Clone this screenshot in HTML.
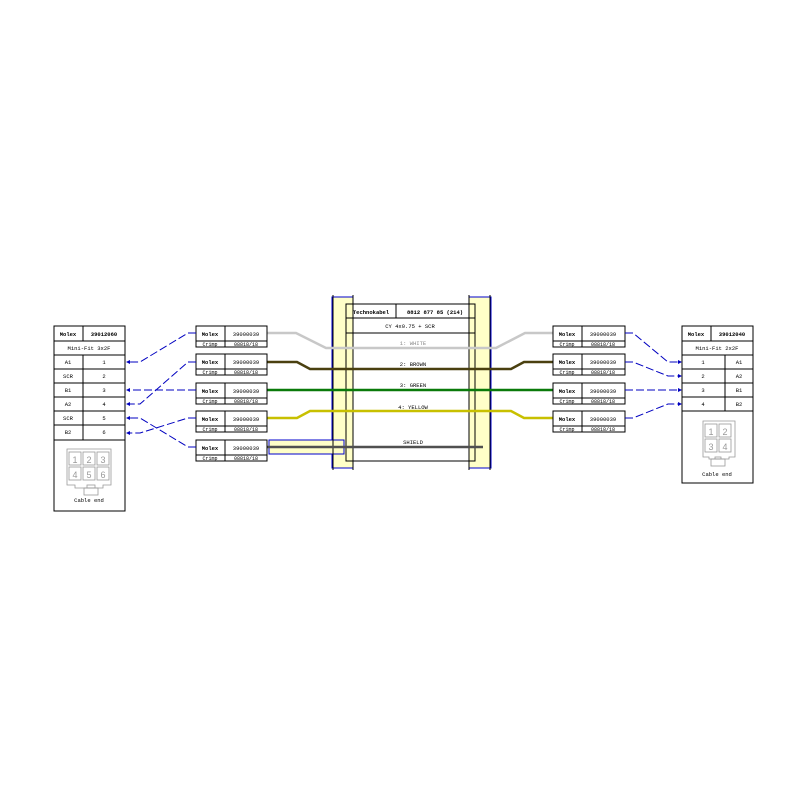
<!DOCTYPE html>
<html><head><style>body{margin:0;background:#fff}svg{display:block}text{font-family:"Liberation Mono",monospace;font-size:5.5px;fill:#000}</style></head><body>
<svg width="801" height="791" viewBox="0 0 801 791" xmlns="http://www.w3.org/2000/svg">
<g fill="none" stroke="#000" stroke-width="1">
<!-- left connector -->
<rect x="54" y="326" width="71" height="185"/>
<line x1="83" y1="326" x2="83" y2="341"/>
<line x1="54" y1="341" x2="125" y2="341"/>
<line x1="54" y1="355" x2="125" y2="355"/>
<line x1="54" y1="369" x2="125" y2="369"/>
<line x1="54" y1="383" x2="125" y2="383"/>
<line x1="54" y1="397" x2="125" y2="397"/>
<line x1="54" y1="411" x2="125" y2="411"/>
<line x1="54" y1="425" x2="125" y2="425"/>
<line x1="54" y1="440" x2="125" y2="440"/>
<line x1="83" y1="355" x2="83" y2="440"/>
<!-- right connector -->
<rect x="682" y="326" width="71" height="157"/>
<line x1="711" y1="326" x2="711" y2="341"/>
<line x1="682" y1="341" x2="753" y2="341"/>
<line x1="682" y1="355" x2="753" y2="355"/>
<line x1="682" y1="369" x2="753" y2="369"/>
<line x1="682" y1="383" x2="753" y2="383"/>
<line x1="682" y1="397" x2="753" y2="397"/>
<line x1="682" y1="411" x2="753" y2="411"/>
<line x1="725" y1="355" x2="725" y2="411"/>
</g>
<g fill="none" stroke="#999" stroke-width="0.8">
<path d="M67 449 H111 V485 H103 V488 H75 V485 H67 Z"/>
<rect x="69" y="452" width="12" height="13"/><rect x="83" y="452" width="12" height="13"/><rect x="97" y="452" width="12" height="13"/>
<rect x="69" y="467" width="12" height="13"/><rect x="83" y="467" width="12" height="13"/><rect x="97" y="467" width="12" height="13"/>
<rect x="84" y="488" width="14" height="7"/><rect x="87" y="485" width="8" height="3"/>
<path d="M703 421 H735 V457 H729 V459 H709 V457 H703 Z"/>
<rect x="705" y="424" width="12" height="13"/><rect x="719" y="424" width="12" height="13"/>
<rect x="705" y="439" width="12" height="13"/><rect x="719" y="439" width="12" height="13"/>
<rect x="711" y="459" width="14" height="7"/><rect x="715" y="457" width="6" height="2"/>
</g>
<g style="font-family:'Liberation Sans',sans-serif;font-size:9px" fill="#999">
<text x="75" y="463" style="fill:#999;font-size:9px;font-family:'Liberation Sans',sans-serif" text-anchor="middle">1</text>
<text x="89" y="463" style="fill:#999;font-size:9px;font-family:'Liberation Sans',sans-serif" text-anchor="middle">2</text>
<text x="103" y="463" style="fill:#999;font-size:9px;font-family:'Liberation Sans',sans-serif" text-anchor="middle">3</text>
<text x="75" y="478" style="fill:#999;font-size:9px;font-family:'Liberation Sans',sans-serif" text-anchor="middle">4</text>
<text x="89" y="478" style="fill:#999;font-size:9px;font-family:'Liberation Sans',sans-serif" text-anchor="middle">5</text>
<text x="103" y="478" style="fill:#999;font-size:9px;font-family:'Liberation Sans',sans-serif" text-anchor="middle">6</text>
<text x="711" y="435" style="fill:#999;font-size:9px;font-family:'Liberation Sans',sans-serif" text-anchor="middle">1</text>
<text x="725" y="435" style="fill:#999;font-size:9px;font-family:'Liberation Sans',sans-serif" text-anchor="middle">2</text>
<text x="711" y="450" style="fill:#999;font-size:9px;font-family:'Liberation Sans',sans-serif" text-anchor="middle">3</text>
<text x="725" y="450" style="fill:#999;font-size:9px;font-family:'Liberation Sans',sans-serif" text-anchor="middle">4</text>
</g>
<g text-anchor="middle">
<text x="68" y="336" font-weight="bold">Molex</text><text x="104" y="336" font-weight="bold">39012060</text>
<text x="89" y="350">Mini-Fit 3x2F</text>
<text x="68" y="364">A1</text><text x="104" y="364">1</text>
<text x="68" y="378">SCR</text><text x="104" y="378">2</text>
<text x="68" y="392">B1</text><text x="104" y="392">3</text>
<text x="68" y="406">A2</text><text x="104" y="406">4</text>
<text x="68" y="420">SCR</text><text x="104" y="420">5</text>
<text x="68" y="434">B2</text><text x="104" y="434">6</text>
<text x="89" y="502">Cable end</text>
<text x="696" y="336" font-weight="bold">Molex</text><text x="732" y="336" font-weight="bold">39012040</text>
<text x="717" y="350">Mini-Fit 2x2F</text>
<text x="703" y="364">1</text><text x="739" y="364">A1</text>
<text x="703" y="378">2</text><text x="739" y="378">A2</text>
<text x="703" y="392">3</text><text x="739" y="392">B1</text>
<text x="703" y="406">4</text><text x="739" y="406">B2</text>
<text x="717" y="476">Cable end</text>
</g>
<!-- cable bands -->
<rect x="332" y="297" width="21" height="171" fill="#ffffc8" stroke="#00c" stroke-width="1"/>
<rect x="469" y="297" width="22" height="171" fill="#ffffc8" stroke="#00c" stroke-width="1"/>
<rect x="269" y="440" width="75" height="14" fill="#ffffc8" stroke="#00c" stroke-width="1"/>
<g stroke="#000" fill="none">
<line x1="333" y1="295" x2="333" y2="470"/><line x1="353" y1="295" x2="353" y2="470"/>
<line x1="490" y1="295" x2="490" y2="470"/><line x1="469" y1="295" x2="469" y2="470"/>
<rect x="346" y="304" width="129" height="157"/>
<line x1="346" y1="318" x2="475" y2="318"/><line x1="346" y1="333" x2="475" y2="333"/>
<line x1="396" y1="304" x2="396" y2="318"/>
</g>
<text x="371" y="314" text-anchor="middle" font-weight="bold">Technokabel</text>
<text x="435" y="314" text-anchor="middle" font-weight="bold">8812 877 85 (214)</text>
<text x="410" y="328" text-anchor="middle">CY 4x0.75 + SCR</text>
<!-- wires -->
<g fill="none" stroke-width="2.5">
<path d="M267 333 H296 L326 348 H496 L525 333 H553" stroke="#c8c8c8"/>
<path d="M267 362 H297 L310 369 H511 L524 362 H553" stroke="#4a4010"/>
<path d="M267 390 H553" stroke="#0a7a0a"/>
<path d="M267 418 H297 L310 411 H511 L524 418 H553" stroke="#c8c000"/>
<path d="M267 447 H483" stroke="#505050"/>
</g>
<g text-anchor="middle">
<text x="413" y="345" style="fill:#888">1: WHITE</text>
<text x="413" y="366">2: BROWN</text>
<text x="413" y="387">3: GREEN</text>
<text x="413" y="409">4: YELLOW</text>
<text x="413" y="444">SHIELD</text>
</g>
<!-- small boxes -->
<g id="b" fill="#fff" stroke="#000">
<rect x="196" y="326" width="71" height="21"/><line x1="196" y1="341" x2="267" y2="341"/><line x1="225" y1="326" x2="225" y2="347"/>
<rect x="196" y="354" width="71" height="21"/><line x1="196" y1="369" x2="267" y2="369"/><line x1="225" y1="354" x2="225" y2="375"/>
<rect x="196" y="383" width="71" height="21"/><line x1="196" y1="398" x2="267" y2="398"/><line x1="225" y1="383" x2="225" y2="404"/>
<rect x="196" y="411" width="71" height="21"/><line x1="196" y1="426" x2="267" y2="426"/><line x1="225" y1="411" x2="225" y2="432"/>
<rect x="196" y="440" width="71" height="21"/><line x1="196" y1="455" x2="267" y2="455"/><line x1="225" y1="440" x2="225" y2="461"/>
<rect x="553" y="326" width="72" height="21"/><line x1="553" y1="341" x2="625" y2="341"/><line x1="582" y1="326" x2="582" y2="347"/>
<rect x="553" y="354" width="72" height="21"/><line x1="553" y1="369" x2="625" y2="369"/><line x1="582" y1="354" x2="582" y2="375"/>
<rect x="553" y="383" width="72" height="21"/><line x1="553" y1="398" x2="625" y2="398"/><line x1="582" y1="383" x2="582" y2="404"/>
<rect x="553" y="411" width="72" height="21"/><line x1="553" y1="426" x2="625" y2="426"/><line x1="582" y1="411" x2="582" y2="432"/>
</g>
<g text-anchor="middle">
<text x="210" y="336" font-weight="bold">Molex</text><text x="246" y="336">39000039</text><text x="210" y="346" style="font-size:5px">Crimp</text><text x="246" y="346" style="font-size:5px">08818/18</text>
<text x="210" y="364" font-weight="bold">Molex</text><text x="246" y="364">39000039</text><text x="210" y="374" style="font-size:5px">Crimp</text><text x="246" y="374" style="font-size:5px">08818/18</text>
<text x="210" y="393" font-weight="bold">Molex</text><text x="246" y="393">39000039</text><text x="210" y="403" style="font-size:5px">Crimp</text><text x="246" y="403" style="font-size:5px">08818/18</text>
<text x="210" y="421" font-weight="bold">Molex</text><text x="246" y="421">39000039</text><text x="210" y="431" style="font-size:5px">Crimp</text><text x="246" y="431" style="font-size:5px">08818/18</text>
<text x="210" y="450" font-weight="bold">Molex</text><text x="246" y="450">39000039</text><text x="210" y="460" style="font-size:5px">Crimp</text><text x="246" y="460" style="font-size:5px">08818/18</text>
<text x="567" y="336" font-weight="bold">Molex</text><text x="603" y="336">39000039</text><text x="567" y="346" style="font-size:5px">Crimp</text><text x="603" y="346" style="font-size:5px">08818/18</text>
<text x="567" y="364" font-weight="bold">Molex</text><text x="603" y="364">39000039</text><text x="567" y="374" style="font-size:5px">Crimp</text><text x="603" y="374" style="font-size:5px">08818/18</text>
<text x="567" y="393" font-weight="bold">Molex</text><text x="603" y="393">39000039</text><text x="567" y="403" style="font-size:5px">Crimp</text><text x="603" y="403" style="font-size:5px">08818/18</text>
<text x="567" y="421" font-weight="bold">Molex</text><text x="603" y="421">39000039</text><text x="567" y="431" style="font-size:5px">Crimp</text><text x="603" y="431" style="font-size:5px">08818/18</text>
</g>
<!-- dashed connectors -->
<g fill="none" stroke="#0000c0" stroke-width="1" stroke-dasharray="8,3">
<path d="M196 333 H188 L140 362 H128"/>
<path d="M196 362 H188 L140 404 H128"/>
<path d="M196 390 H128"/>
<path d="M196 418 H188 L140 433 H128"/>
<path d="M196 447 H188 L140 418 H128"/>
<path d="M625 333 H633 L668 362 H680"/>
<path d="M625 362 H633 L668 376 H680"/>
<path d="M625 390 H680"/>
<path d="M625 418 H633 L668 404 H680"/>
</g>
<g fill="#0000c0">
<path d="M126 362 l4 -2 v4z"/><path d="M126 404 l4 -2 v4z"/><path d="M126 390 l4 -2 v4z"/><path d="M126 433 l4 -2 v4z"/><path d="M126 418 l4 -2 v4z"/>
<path d="M682 362 l-4 -2 v4z"/><path d="M682 376 l-4 -2 v4z"/><path d="M682 390 l-4 -2 v4z"/><path d="M682 404 l-4 -2 v4z"/>
</g>
</svg>
</body></html>
